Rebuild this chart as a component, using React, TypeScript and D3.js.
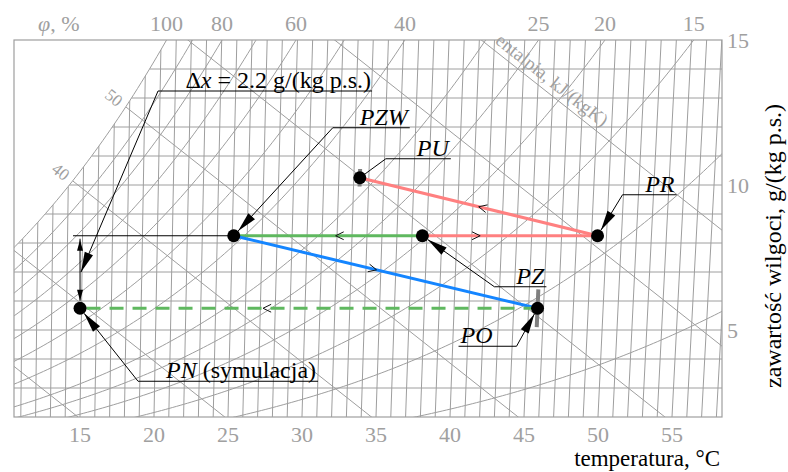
import React from 'react';
import * as d3 from 'd3';

// ---- chart data ----
const temperatureTicks = [15, 20, 25, 30, 35, 40, 45, 50, 55];
const humidityTicks = [5, 10, 15];
const rhLevels = [100, 90, 80, 70, 60, 50, 40, 30, 25, 20, 15, 10, 5];
const rhLabels = [100, 80, 60, 40, 25, 20, 15];
const enthalpyLevels = [10, 20, 30, 40, 50, 60, 70, 80];
const enthalpyLabels = [40, 50];
const enthalpyTitleLevel = 80;

const stateNames = ['PN', 'PZW', 'PZ', 'PR', 'PU', 'PO'];
const stateTemp = [14.9, 25.1, 37.7, 49.4, 33.4, 45.6];
const stateHum = [5.75, 8.25, 8.25, 8.25, 10.25, 5.75];
const stateSpread = [0, 0, 0, 0, 0.3, 0.65];

const processFrom = ['PZ', 'PR', 'PZ', 'PZW', 'PO'];
const processTo = ['PR', 'PU', 'PZW', 'PO', 'PN'];

const deltaX = 2.2;

// ---- psychrometrics ----
const PRESSURE = 101325;
const pSat = (t: number) => 610.94 * Math.exp((17.625 * t) / (t + 243.04));
const humidity = (t: number, phi: number) => {
  const pv = phi * pSat(t);
  return (622 * pv) / (PRESSURE - pv);
};
// Mollier skew: horizontal coordinate
const skew = (t: number, x: number) => t * (1.005 + 0.00186 * x);

function solve(f: (v: number) => number, a: number, b: number) {
  let lo = a, hi = b;
  for (let i = 0; i < 60; i++) {
    const m = (lo + hi) / 2;
    if (f(lo) * f(m) <= 0) hi = m; else lo = m;
  }
  return (lo + hi) / 2;
}

// ---- layout ----
const W = 788, H = 472;
const left = 14, right = 722, top = 40, bottom = 417;
const uScale = d3.scaleLinear().domain([10.633, 58.888]).range([left, right]);
const yScale = d3.scaleLinear().domain([2, 15]).range([bottom, top]);
const px = (t: number, x: number) => uScale(skew(t, x));
const py = (x: number) => yScale(x);

const gridColor = '#9e9e9e';
const tickColor = '#a0a0a0';
const serif = { fontFamily: "'Liberation Serif'" };

const processColor = ['#ff8080', '#ff8080', '#5fb85f', '#1485ff', '#5fb85f'];
const processDash = [null, null, null, null, '14,9'];
const chevronAt = [0.33, 0.5, 0.46, 0.47, 0.6];

type Callout = { dx: number; dy: number; len: number; attach: 'left' | 'right'; arrow: boolean };
const calloutLayout: Record<string, Callout> = {
  PN: { dx: 58, dy: 73, len: 180, attach: 'left', arrow: true },
  PZW: { dx: 99, dy: -108, len: 77, attach: 'left', arrow: true },
  PU: { dx: 26, dy: -19, len: 65, attach: 'left', arrow: false },
  PR: { dx: 25, dy: -41, len: 54, attach: 'left', arrow: true },
  PZ: { dx: 72, dy: 51, len: 52, attach: 'left', arrow: true },
  PO: { dx: -21, dy: 38, len: 58, attach: 'right', arrow: true },
};

const DOT_R = 6.5;

function arrowHead(tx: number, ty: number, fx: number, fy: number, len: number, hw: number) {
  const d = Math.hypot(fx - tx, fy - ty);
  const vx = (fx - tx) / d, vy = (fy - ty) / d;
  const bx = tx + vx * len, by = ty + vy * len;
  const nx = -vy, ny = vx;
  return `M${tx},${ty}L${bx + nx * hw},${by + ny * hw}L${bx - nx * hw},${by - ny * hw}Z`;
}

function chevron(x1: number, y1: number, x2: number, y2: number, f: number) {
  const cx = x1 + (x2 - x1) * f, cy = y1 + (y2 - y1) * f;
  const a = Math.atan2(y2 - y1, x2 - x1);
  const L = 9, s = 0.45;
  return `M${cx - L * Math.cos(a - s)},${cy - L * Math.sin(a - s)}L${cx},${cy}L${cx - L * Math.cos(a + s)},${cy - L * Math.sin(a + s)}`;
}

export default function App() {
  const line = d3.line();
  const idx = (n: string) => stateNames.indexOf(n);
  const sx = (n: string) => px(stateTemp[idx(n)], stateHum[idx(n)]);
  const sy = (n: string) => py(stateHum[idx(n)]);

  // saturation region clip
  const satPts = d3.range(-10, 26, 0.2).map(t => [px(t, humidity(t, 1)), py(humidity(t, 1))] as [number, number]);
  const satRegion = line([
    [-1000, 2000],
    [-1000, satPts[0][1]],
    ...satPts,
    [2000, satPts[satPts.length - 1][1]],
    [2000, 2000],
  ] as [number, number][]) + 'Z';

  const isotherms = d3.range(5, 65, 1);
  const horizontals = d3.range(3, 15, 1);

  const rhPath = (phi: number) =>
    line(
      d3.range(-5, 75, 0.25)
        .map(t => ({ t, x: humidity(t, phi / 100) }))
        .filter(d => d.x < 20)
        .map(d => [px(d.t, d.x), py(d.x)] as [number, number])
    ) || '';

  const hLine = (h: number) => line([
    [uScale(h + 2.501), py(-1)],
    [uScale(h - 2.501 * 20), py(20)],
  ]) || '';

  // enthalpy line direction
  const hdx = uScale(0) - uScale(-2.501), hdy = py(0) - py(1);
  const hRad = Math.atan2(hdy, hdx);
  const hAngle = (hRad * 180) / Math.PI;
  const hc = Math.cos(hRad), hs = Math.sin(hRad);

  const enthalpyLabelPos = enthalpyLabels.map(h => {
    const t = solve(tt => {
      const xs = humidity(tt, 1);
      return skew(tt, xs) + 2.501 * xs - h;
    }, -20, 60);
    const xs = humidity(t, 1);
    const x0 = px(t, xs), y0 = py(xs);
    return { h, x: x0 - 15 * hc, y: y0 - 15 * hs };
  });

  const titleX = 14.75;
  const titlePos = { x: uScale(enthalpyTitleLevel - 2.501 * titleX), y: py(titleX) };

  const rhLabelPos = rhLabels.map(phi => {
    const t = solve(tt => humidity(tt, phi / 100) - 15, 0, 80);
    return { phi, x: px(t, 15) };
  });

  // delta-x marker
  const pnX = sx('PN');
  const yTop = py(stateHum[idx('PZW')]);
  const yBot = py(stateHum[idx('PN')]);
  const dxTipY = (yTop + yBot) / 2;
  const dxLabel = { x: pnX + 78, y: dxTipY - 181, len: 214 };

  return (
    <svg width={W} height={H} style={{ position: 'absolute', left: 0, top: 0, background: '#fff', fontFamily: "'Liberation Serif'" }}>
      <defs>
        <clipPath id="plotArea">
          <rect x={left} y={top} width={right - left} height={bottom - top} />
        </clipPath>
        <clipPath id="unsat">
          <path d={satRegion} />
        </clipPath>
      </defs>

      {/* grid */}
      <g clipPath="url(#plotArea)" fill="none" stroke={gridColor} strokeWidth={1}>
        <g clipPath="url(#unsat)">
          {isotherms.map(t => (
            <line key={'t' + t} x1={px(t, 0)} y1={py(0)} x2={px(t, 16)} y2={py(16)} />
          ))}
          {horizontals.map(x => (
            <line key={'x' + x} x1={0} y1={py(x)} x2={W} y2={py(x)} />
          ))}
          {rhLevels.filter(p => p < 100).map(p => (
            <path key={'rh' + p} d={rhPath(p)} />
          ))}
          {enthalpyLevels.map(h => (
            <path key={'h' + h} d={hLine(h)} />
          ))}
        </g>
        <path d={rhPath(100)} />
      </g>
      <rect x={left} y={top} width={right - left} height={bottom - top} fill="none" stroke={gridColor} strokeWidth={1.2} />

      {/* grid labels */}
      <g fill={tickColor} fontSize={22}>
        {temperatureTicks.map(t => (
          <text key={'tt' + t} style={serif} x={px(t, 2)} y={442} textAnchor="middle">{t}</text>
        ))}
        {humidityTicks.map(x => (
          <text key={'ht' + x} style={serif} x={727} y={py(x)} dy="0.35em">{x}</text>
        ))}
        {rhLabelPos.map(d => (
          <text key={'rl' + d.phi} style={serif} x={d.x} y={31} textAnchor="middle">{d.phi}</text>
        ))}
        <text style={serif} x={38} y={31}>
          <tspan fontStyle="italic">φ</tspan>, %
        </text>
      </g>
      <g fill={tickColor}>
        {enthalpyLabelPos.map(d => (
          <text key={'hl' + d.h} style={serif} fontSize={17} textAnchor="middle" dy="0.35em"
            transform={`translate(${d.x},${d.y}) rotate(${hAngle})`}>{d.h}</text>
        ))}
        <text style={serif} fontSize={19} dy={-6} transform={`translate(${titlePos.x},${titlePos.y}) rotate(${hAngle})`}>
          entalpia, kJ/(kgK)
        </text>
      </g>

      {/* axis titles */}
      <text style={serif} x={720} y={466} textAnchor="end" fontSize={23} fill="#000">temperatura, °C</text>
      <text style={serif} transform={`translate(781,246) rotate(-90)`} textAnchor="middle" fontSize={24} fill="#000">
        zawartość wilgoci, g/(kg p.s.)
      </text>

      {/* spread bars */}
      {stateNames.map((n, i) => stateSpread[i] > 0 && (
        <line key={'sp' + n}
          x1={px(stateTemp[i], stateHum[i] - stateSpread[i])} y1={py(stateHum[i] - stateSpread[i])}
          x2={px(stateTemp[i], stateHum[i] + stateSpread[i])} y2={py(stateHum[i] + stateSpread[i])}
          stroke="#808080" strokeWidth={4} />
      ))}

      {/* delta-x reference */}
      <g stroke="#000" strokeWidth={1} fill="none">
        <line x1={pnX - 7} y1={yTop} x2={sx('PZW')} y2={yTop} />
        <line x1={pnX} y1={yTop + 3} x2={pnX} y2={yBot - DOT_R - 1} />
      </g>
      <path d={arrowHead(pnX, yTop + 4, pnX, yTop + 20, 11, 3)} fill="#000" />
      <path d={arrowHead(pnX, yBot - DOT_R - 1, pnX, yBot - 30, 11, 3)} fill="#000" />

      {/* process lines */}
      {processFrom.map((f, i) => (
        <line key={'p' + i} x1={sx(f)} y1={sy(f)} x2={sx(processTo[i])} y2={sy(processTo[i])}
          stroke={processColor[i]} strokeWidth={3} strokeDasharray={processDash[i] || undefined} />
      ))}
      {processFrom.map((f, i) => (
        <path key={'c' + i} d={chevron(sx(f), sy(f), sx(processTo[i]), sy(processTo[i]), chevronAt[i])}
          stroke="#111" strokeWidth={1} fill="none" />
      ))}

      {/* callouts */}
      {stateNames.map(n => {
        const c = calloutLayout[n];
        const x0 = sx(n), y0 = sy(n);
        const ax = x0 + c.dx, ay = y0 + c.dy;
        const u1 = c.attach === 'left' ? ax : ax - c.len;
        const u2 = u1 + c.len;
        const d = Math.hypot(ax - x0, ay - y0);
        const tx = x0 + ((ax - x0) / d) * DOT_R, ty = y0 + ((ay - y0) / d) * DOT_R;
        const textLeft = c.attach === 'right';
        return (
          <g key={'co' + n}>
            <line x1={u1} y1={ay} x2={u2} y2={ay} stroke="#000" strokeWidth={1} />
            <line x1={ax} y1={ay} x2={tx} y2={ty} stroke="#000" strokeWidth={1} />
            {c.arrow && <path d={arrowHead(tx, ty, ax, ay, 20, 4.5)} fill="#000" />}
            <text style={serif} x={textLeft ? u1 + 2 : u2 - 2} y={ay - 3} textAnchor={textLeft ? 'start' : 'end'} fontSize={24} fill="#000">
              <tspan fontStyle="italic">{n}</tspan>
              {n === 'PN' && <tspan> (symulacja)</tspan>}
            </text>
          </g>
        );
      })}

      {/* delta-x callout */}
      <g>
        <line x1={dxLabel.x} y1={dxLabel.y} x2={dxLabel.x + dxLabel.len} y2={dxLabel.y} stroke="#000" strokeWidth={1} />
        <line x1={dxLabel.x} y1={dxLabel.y} x2={pnX + 1} y2={dxTipY} stroke="#000" strokeWidth={1} />
        <path d={arrowHead(pnX + 1, dxTipY, dxLabel.x, dxLabel.y, 20, 4.5)} fill="#000" />
        <text style={serif} x={dxLabel.x + dxLabel.len - 1} y={dxLabel.y - 3} textAnchor="end" fontSize={24} fill="#000">
          Δ<tspan fontStyle="italic">x</tspan> = {deltaX} g/(kg p.s.)
        </text>
      </g>

      {/* state points */}
      {stateNames.map(n => (
        <circle key={'pt' + n} cx={sx(n)} cy={sy(n)} r={DOT_R} fill="#000" />
      ))}
    </svg>
  );
}
